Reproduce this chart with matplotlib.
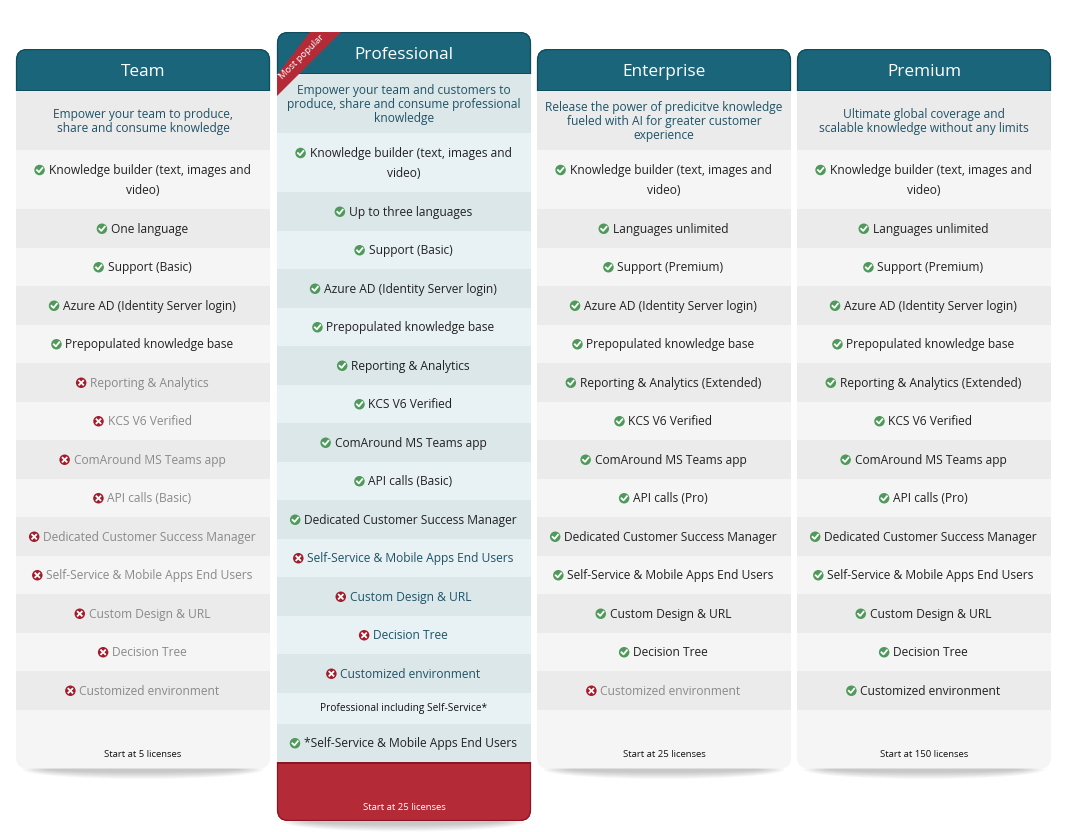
import matplotlib
matplotlib.use("Agg")
from matplotlib import pyplot as plt
from matplotlib.patches import FancyBboxPatch, Rectangle, Polygon, Ellipse

plt.rcParams['font.family'] = ['Open Sans', 'DejaVu Sans']

plans = ["Team", "Professional", "Enterprise", "Premium"]
descriptions = [
    "Empower your team to produce,\nshare and consume knowledge",
    "Empower your team and customers to\nproduce, share and consume professional\nknowledge",
    "Release the power of predicitve knowledge\nfueled with AI for greater customer\nexperience",
    "Ultimate global coverage and\nscalable knowledge without any limits",
]
footers = ["Start at 5 licenses", "Start at 25 licenses", "Start at 25 licenses", "Start at 150 licenses"]

team_rows = ["Knowledge builder (text, images and\nvideo)", "One language", "Support (Basic)",
             "Azure AD (Identity Server login)", "Prepopulated knowledge base",
             "Reporting & Analytics", "KCS V6 Verified", "ComAround MS Teams app", "API calls (Basic)",
             "Dedicated Customer Success Manager", "Self-Service & Mobile Apps End Users",
             "Custom Design & URL", "Decision Tree", "Customized environment"]
team_ok = [1, 1, 1, 1, 1, 0, 0, 0, 0, 0, 0, 0, 0, 0]

pro_rows = ["Knowledge builder (text, images and\nvideo)", "Up to three languages", "Support (Basic)",
            "Azure AD (Identity Server login)", "Prepopulated knowledge base",
            "Reporting & Analytics", "KCS V6 Verified", "ComAround MS Teams app", "API calls (Basic)",
            "Dedicated Customer Success Manager", "Self-Service & Mobile Apps End Users",
            "Custom Design & URL", "Decision Tree", "Customized environment"]
pro_ok = [1, 1, 1, 1, 1, 1, 1, 1, 1, 1, 0, 0, 0, 0]

ent_rows = ["Knowledge builder (text, images and\nvideo)", "Languages unlimited", "Support (Premium)",
            "Azure AD (Identity Server login)", "Prepopulated knowledge base",
            "Reporting & Analytics (Extended)", "KCS V6 Verified", "ComAround MS Teams app", "API calls (Pro)",
            "Dedicated Customer Success Manager", "Self-Service & Mobile Apps End Users",
            "Custom Design & URL", "Decision Tree", "Customized environment"]
ent_ok = [1, 1, 1, 1, 1, 1, 1, 1, 1, 1, 1, 1, 1, 0]
prem_ok = [1, 1, 1, 1, 1, 1, 1, 1, 1, 1, 1, 1, 1, 1]

all_rows = [team_rows, pro_rows, ent_rows, ent_rows]
all_ok = [team_ok, pro_ok, ent_ok, prem_ok]

pro_note = "Professional including Self-Service*"
pro_extra = "*Self-Service & Mobile Apps End Users"

lefts = [16, 277, 537, 797]
tops = [49, 32, 49, 49]
COL_W = 254
HEAD_H = 42
DESC_H = 59
ROW_H = 38.5
TWO_ROW_H = 59
FOOT_H = 59
NOTE_H = 31

HEAD = "#1a6579"
HEAD_DARK = "#0e4c5e"
RED = "#b52a37"
RED_DARK = "#8c1525"
GREEN = "#4f9a5b"
XRED = "#a31c2b"
TXT = "#222222"
MUTED = "#8a8a8a"
BLUE_TXT = "#1f5468"
FS = 8.65

fig = plt.figure(figsize=(10.7, 8.32), dpi=100)
ax = fig.add_axes([0, 0, 1, 1])
ax.set_xlim(0, 1070)
ax.set_ylim(832, 0)
ax.axis("off")
renderer = fig.canvas.get_renderer()


def feature(cx, cy, label, ok, txt_color):
    # icon goes left of the first line, so measure it first
    lines = label.split("\n")
    if len(lines) == 2:
        y1, y2 = cy - 10, cy + 10
    else:
        y1, y2 = cy, None
    t = ax.text(cx + 6.5, y1 + 1, lines[0], ha="center", va="center", fontsize=FS, color=txt_color, zorder=5)
    bb = t.get_window_extent(renderer)
    ix = bb.x0 - 9
    ax.add_patch(Ellipse((ix, y1 + 0.5), 10.5, 10.5, color=GREEN if ok else XRED, zorder=5, lw=0))
    iy = y1 + 0.5
    if ok:
        ax.plot([ix - 2.6, ix - 0.6, ix + 2.8], [iy + 0.1, iy + 2.1, iy - 2], color="white", lw=1.3, zorder=6)
    else:
        ax.plot([ix - 2, ix + 2], [iy - 2, iy + 2], color="white", lw=1.3, zorder=6)
        ax.plot([ix - 2, ix + 2], [iy + 2, iy - 2], color="white", lw=1.3, zorder=6)
    if y2 is not None:
        ax.text(cx, y2 + 1, lines[1], ha="center", va="center", fontsize=FS, color=txt_color, zorder=5)


for i, plan in enumerate(plans):
    x0 = lefts[i]
    top = tops[i]
    cx = x0 + COL_W / 2
    is_pro = plan == "Professional"
    n_rows = len(all_rows[i])
    body_end = top + HEAD_H + DESC_H + TWO_ROW_H + (n_rows - 1) * ROW_H
    if is_pro:
        bottom = body_end + NOTE_H + ROW_H + FOOT_H
    else:
        bottom = body_end + FOOT_H

    # soft shadow under the card
    for k in range(10):
        ax.add_patch(Ellipse((cx, bottom + 1), COL_W * (0.95 - k * 0.022), 19 - k * 1.5,
                             color="#666666", alpha=0.04, lw=0, zorder=0))

    card = FancyBboxPatch((x0 + 10, top + 10), COL_W - 20, bottom - top - 20,
                          boxstyle="round,pad=10,rounding_size=11", fc="#f5f5f5", ec="none", zorder=1)
    ax.add_patch(card)

    stripe = ("#dce7ea", "#e8f1f4") if is_pro else ("#ebebeb", "#f5f5f5")

    def band(y, h, color):
        r = Rectangle((x0, y), COL_W, h, fc=color, ec="none", zorder=2)
        ax.add_patch(r)
        r.set_clip_path(card)

    def rim(y, h, color):
        # dark card outline, only over one band
        o = FancyBboxPatch((x0 + 10.5, top + 10.5), COL_W - 21, bottom - top - 21,
                           boxstyle="round,pad=10,rounding_size=11", fc="none", ec=color, lw=0.9, zorder=3)
        ax.add_patch(o)
        o.set_clip_path(Rectangle((x0 - 2, y), COL_W + 4, h, transform=ax.transData))

    band(top, HEAD_H, HEAD)
    band(top + HEAD_H - 1.5, 1.5, HEAD_DARK)
    rim(top, HEAD_H, HEAD_DARK)
    ax.text(cx, top + HEAD_H / 2 + 2, plan, ha="center", va="center", fontsize=12.4, color="white", zorder=5)

    y = top + HEAD_H
    band(y, DESC_H, stripe[0])
    ax.text(cx, y + DESC_H / 2 + 1, descriptions[i], ha="center", va="center", fontsize=FS,
            color=BLUE_TXT, linespacing=1.12, zorder=5)
    y += DESC_H

    for j, label in enumerate(all_rows[i]):
        h = TWO_ROW_H if "\n" in label else ROW_H
        band(y, h, stripe[(j + 1) % 2])
        ok = all_ok[i][j]
        if ok:
            color = TXT
        elif is_pro:
            color = BLUE_TXT
        else:
            color = MUTED
        feature(cx, y + h / 2, label, ok, color)
        y += h

    if is_pro:
        band(y, NOTE_H, stripe[1])
        ax.text(cx, y + NOTE_H / 2, pro_note, ha="center", va="center", fontsize=7.3, color="#111111", zorder=5)
        y += NOTE_H
        band(y, ROW_H, stripe[0])
        feature(cx, y + ROW_H / 2, pro_extra, 1, TXT)
        y += ROW_H
        band(y, FOOT_H, RED)
        band(y, 1.5, RED_DARK)
        rim(y, FOOT_H, RED_DARK)
        ax.text(cx, y + 45, footers[i], ha="center", va="center", fontsize=6.8, color="white", zorder=5)
        # ribbon across the top left corner
        rib = Polygon([(x0, top + 64), (x0, top + 43), (x0 + 33, top), (x0 + 64, top)],
                      closed=True, fc=RED, ec="none", zorder=4)
        ax.add_patch(rib)
        ax.text(x0 + 25, top + 25, "Most popular", rotation=45, ha="center", va="center",
                rotation_mode="anchor", fontsize=6.8, color="white", zorder=6)
    else:
        ax.text(cx, y + 45, footers[i], ha="center", va="center", fontsize=6.8, color="#111111", zorder=5)

fig.savefig("out.png", dpi=100, facecolor="white")
